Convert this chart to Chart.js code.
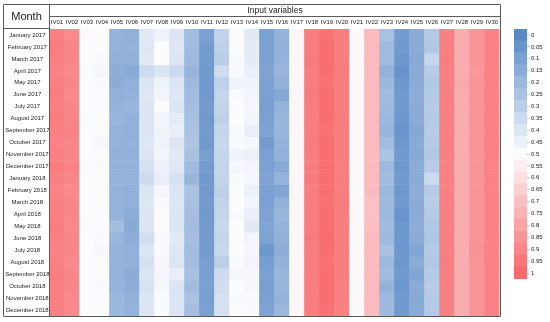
<!DOCTYPE html>
<html>
<head>
<meta charset="utf-8">
<script src="https://cdn.jsdelivr.net/npm/chart.js@4/dist/chart.umd.min.js"></script>
<style>
  html, body { margin: 0; padding: 0; background: #fff; }
  #wrap { position: relative; width: 550px; height: 322px; }
  #heat { position: absolute; left: 0; top: 0; }
  #bar { position: absolute; left: 500px; top: 0; }
</style>
</head>
<body>
<div id="wrap">
<canvas id="heat" width="550" height="322"></canvas>
<canvas id="bar" width="50" height="322"></canvas>
</div>
<script>
const months = ["January 2017","February 2017","March 2017","April 2017","May 2017","June 2017","July 2017","August 2017","September 2017","October 2017","November 2017","December 2017","January 2018","February 2018","March 2018","April 2018","May 2018","June 2018","July 2018","August 2018","September 2018","October 2018","November 2018","December 2018"];
const variables = ["IV01","IV02","IV03","IV04","IV05","IV06","IV07","IV08","IV09","IV10","IV11","IV12","IV13","IV14","IV15","IV16","IV17","IV18","IV19","IV20","IV21","IV22","IV23","IV24","IV25","IV26","IV27","IV28","IV29","IV30"];
const scaleTicks = ["0","0.05","0.1","0.15","0.2","0.25","0.3","0.35","0.4","0.45","0.5","0.55","0.6","0.65","0.7","0.75","0.8","0.85","0.9","0.95","1"];
const scaleValues = [0,0.05,0.1,0.15,0.2,0.25,0.3,0.35,0.4,0.45,0.5,0.55,0.6,0.65,0.7,0.75,0.8,0.85,0.9,0.95,1];

// one array per input variable, 24 monthly values each
const IV01 = [0.92,0.93,0.92,0.91,0.92,0.93,0.92,0.93,0.92,0.91,0.92,0.93,0.92,0.91,0.92,0.92,0.93,0.92,0.91,0.92,0.93,0.92,0.92,0.92];
const IV02 = [0.89,0.90,0.90,0.89,0.90,0.89,0.90,0.90,0.91,0.90,0.90,0.91,0.90,0.89,0.90,0.90,0.89,0.90,0.90,0.89,0.90,0.90,0.89,0.89];
const IV03 = [0.51,0.50,0.50,0.49,0.50,0.50,0.50,0.49,0.50,0.50,0.50,0.50,0.50,0.50,0.50,0.50,0.49,0.50,0.50,0.50,0.50,0.50,0.50,0.50];
const IV04 = [0.50,0.50,0.49,0.48,0.49,0.50,0.50,0.50,0.50,0.48,0.50,0.49,0.50,0.50,0.50,0.50,0.50,0.49,0.48,0.50,0.50,0.49,0.50,0.50];
const IV05 = [0.18,0.18,0.17,0.16,0.15,0.17,0.18,0.19,0.18,0.18,0.17,0.18,0.18,0.18,0.18,0.18,0.23,0.19,0.18,0.18,0.18,0.18,0.20,0.20];
const IV06 = [0.17,0.18,0.17,0.14,0.17,0.18,0.19,0.17,0.17,0.18,0.17,0.18,0.18,0.17,0.17,0.15,0.14,0.16,0.17,0.17,0.15,0.16,0.17,0.18];
const IV07 = [0.42,0.41,0.42,0.36,0.40,0.41,0.40,0.40,0.40,0.41,0.40,0.38,0.36,0.40,0.41,0.40,0.40,0.37,0.40,0.38,0.40,0.39,0.40,0.40];
const IV08 = [0.46,0.50,0.50,0.40,0.46,0.47,0.50,0.47,0.46,0.46,0.47,0.45,0.44,0.48,0.49,0.50,0.50,0.49,0.49,0.48,0.48,0.48,0.49,0.49];
const IV09 = [0.40,0.41,0.40,0.35,0.40,0.41,0.40,0.43,0.44,0.40,0.42,0.41,0.38,0.40,0.41,0.40,0.40,0.42,0.41,0.40,0.44,0.40,0.40,0.40];
const IV10 = [0.22,0.22,0.21,0.19,0.21,0.22,0.23,0.24,0.25,0.26,0.24,0.22,0.19,0.25,0.24,0.23,0.22,0.23,0.22,0.23,0.24,0.22,0.25,0.23];
const IV11 = [0.10,0.08,0.08,0.07,0.07,0.07,0.08,0.07,0.08,0.07,0.09,0.08,0.07,0.07,0.08,0.07,0.08,0.08,0.08,0.09,0.09,0.10,0.09,0.10];
const IV12 = [0.32,0.31,0.30,0.36,0.31,0.33,0.32,0.31,0.33,0.34,0.33,0.33,0.32,0.31,0.32,0.33,0.34,0.33,0.34,0.30,0.36,0.37,0.38,0.38];
const IV13 = [0.50,0.50,0.49,0.49,0.46,0.49,0.50,0.50,0.49,0.49,0.46,0.48,0.49,0.50,0.50,0.49,0.50,0.50,0.50,0.49,0.48,0.50,0.49,0.50];
const IV14 = [0.42,0.43,0.43,0.45,0.46,0.47,0.48,0.47,0.44,0.48,0.45,0.47,0.48,0.45,0.47,0.44,0.42,0.47,0.48,0.47,0.48,0.48,0.49,0.49];
const IV15 = [0.10,0.10,0.10,0.11,0.10,0.10,0.09,0.10,0.11,0.08,0.10,0.10,0.11,0.10,0.10,0.11,0.12,0.11,0.06,0.09,0.10,0.09,0.10,0.11];
const IV16 = [0.18,0.17,0.18,0.19,0.17,0.13,0.18,0.19,0.19,0.18,0.17,0.14,0.18,0.12,0.17,0.19,0.18,0.17,0.16,0.18,0.19,0.19,0.18,0.20];
const IV17 = [0.52,0.52,0.52,0.52,0.52,0.52,0.52,0.52,0.52,0.52,0.52,0.52,0.52,0.52,0.52,0.52,0.52,0.52,0.52,0.52,0.52,0.52,0.52,0.52];
const IV18 = [0.93,0.93,0.94,0.93,0.93,0.94,0.93,0.93,0.93,0.94,0.93,0.93,0.94,0.93,0.93,0.93,0.93,0.94,0.93,0.93,0.93,0.93,0.93,0.93];
const IV19 = [0.97,0.98,0.98,0.98,0.97,0.98,0.98,0.98,0.97,0.98,0.98,0.98,0.98,0.98,0.97,0.98,0.98,0.98,0.98,0.97,0.98,0.98,0.98,0.97];
const IV20 = [0.93,0.93,0.93,0.94,0.93,0.93,0.93,0.94,0.93,0.93,0.93,0.93,0.93,0.93,0.94,0.93,0.93,0.93,0.93,0.93,0.93,0.92,0.92,0.92];
const IV21 = [0.51,0.51,0.51,0.51,0.51,0.51,0.51,0.51,0.51,0.51,0.51,0.51,0.51,0.51,0.51,0.51,0.51,0.51,0.51,0.51,0.51,0.51,0.51,0.51];
const IV22 = [0.72,0.72,0.72,0.72,0.72,0.72,0.72,0.72,0.72,0.72,0.72,0.72,0.72,0.72,0.70,0.70,0.71,0.72,0.72,0.72,0.72,0.72,0.72,0.72];
const IV23 = [0.24,0.21,0.22,0.18,0.20,0.22,0.21,0.20,0.19,0.22,0.25,0.21,0.22,0.20,0.21,0.20,0.22,0.21,0.24,0.20,0.22,0.18,0.21,0.21];
const IV24 = [0.08,0.07,0.06,0.04,0.06,0.07,0.07,0.06,0.05,0.06,0.07,0.06,0.07,0.06,0.07,0.05,0.06,0.06,0.06,0.06,0.07,0.06,0.07,0.07];
const IV25 = [0.15,0.15,0.14,0.15,0.15,0.16,0.15,0.15,0.13,0.15,0.14,0.15,0.15,0.16,0.15,0.15,0.16,0.15,0.12,0.15,0.12,0.15,0.14,0.15];
const IV26 = [0.28,0.27,0.33,0.29,0.27,0.28,0.29,0.28,0.29,0.28,0.27,0.29,0.35,0.28,0.30,0.28,0.27,0.26,0.28,0.27,0.28,0.29,0.28,0.28];
const IV27 = [0.92,0.92,0.93,0.92,0.92,0.92,0.92,0.92,0.92,0.92,0.92,0.92,0.92,0.92,0.92,0.92,0.92,0.92,0.92,0.93,0.92,0.92,0.92,0.92];
const IV28 = [0.77,0.77,0.77,0.77,0.78,0.77,0.77,0.77,0.77,0.77,0.77,0.77,0.77,0.77,0.77,0.77,0.77,0.77,0.77,0.77,0.77,0.77,0.77,0.77];
const IV29 = [0.85,0.85,0.85,0.84,0.85,0.85,0.85,0.85,0.85,0.85,0.85,0.85,0.85,0.85,0.85,0.85,0.85,0.85,0.86,0.85,0.85,0.85,0.85,0.85];
const IV30 = [0.91,0.91,0.91,0.91,0.91,0.91,0.91,0.91,0.91,0.91,0.91,0.91,0.91,0.91,0.91,0.91,0.91,0.91,0.91,0.91,0.91,0.91,0.91,0.91];

const columns = [IV01,IV02,IV03,IV04,IV05,IV06,IV07,IV08,IV09,IV10,IV11,IV12,IV13,IV14,IV15,IV16,IV17,IV18,IV19,IV20,IV21,IV22,IV23,IV24,IV25,IV26,IV27,IV28,IV29,IV30];

const LOW = [90,138,198], MID = [252,252,255], HIGH = [248,105,107];
function colorFor(v) {
  let a, b, t;
  if (v <= 0.5) { a = LOW; b = MID; t = v / 0.5; } else { a = MID; b = HIGH; t = (v - 0.5) / 0.5; }
  const c = a.map((x, i) => Math.round(x + (b[i] - x) * t));
  return `rgb(${c[0]},${c[1]},${c[2]})`;
}

const FONT = "'Liberation Sans', Arial, sans-serif";

const tablePlugin = {
  id: 'tableFrame',
  afterDraw(chart) {
    const ctx = chart.ctx;
    const a = chart.chartArea;
    const left = 3.5, top = 4.5;
    const right = Math.round(a.right) + 0.5, bottom = Math.round(a.bottom) + 0.5;
    const colX = Math.round(a.left) - 0.5;
    ctx.save();
    ctx.strokeStyle = '#5a5a5a';
    ctx.lineWidth = 1;
    ctx.beginPath();
    ctx.rect(left, top, right - left, bottom - top);
    ctx.moveTo(colX, top); ctx.lineTo(colX, bottom);
    ctx.moveTo(colX, 16.5); ctx.lineTo(right, 16.5);
    ctx.moveTo(left, Math.round(a.top) - 0.5); ctx.lineTo(colX, Math.round(a.top) - 0.5);
    ctx.stroke();
    ctx.fillStyle = '#222';
    ctx.textAlign = 'center';
    ctx.textBaseline = 'middle';
    ctx.font = `11px ${FONT}`;
    ctx.fillText('Month', (left + colX) / 2, 17);
    ctx.font = `8.5px ${FONT}`;
    ctx.fillText('Input variables', (colX + right) / 2, 10.5);
    ctx.restore();
  }
};

const heatDatasets = months.map((m, r) => ({
  label: m,
  data: variables.map(() => 1),
  backgroundColor: columns.map(col => colorFor(col[r])),
  borderWidth: 0,
  barPercentage: 1,
  categoryPercentage: 1,
  yAxisID: 'y',
  xAxisID: 'x'
}));

new Chart(document.getElementById('heat'), {
  type: 'bar',
  data: { labels: variables, datasets: heatDatasets },
  options: {
    responsive: false,
    animation: false,
    devicePixelRatio: 1,
    layout: { padding: { left: 3, top: 16, right: 50.5, bottom: 6 } },
    plugins: { legend: { display: false }, tooltip: { enabled: false } },
    scales: {
      x: {
        position: 'top', stacked: true,
        grid: { display: false, drawTicks: false },
        border: { display: false },
        ticks: { font: { size: 6, family: FONT }, color: '#222', maxRotation: 0, autoSkip: false, padding: 3 },
        afterFit: s => { s.height = 13; }
      },
      y: { stacked: true, min: 0, max: 24, reverse: true, display: false },
      m: {
        type: 'category', labels: months, position: 'left', offset: true,
        grid: { display: false, drawTicks: false },
        border: { display: false },
        ticks: { font: { size: 6, family: FONT }, color: '#222', autoSkip: false, crossAlign: 'center', padding: 0 },
        afterFit: s => { s.width = 46.5; }
      }
    }
  },
  plugins: [tablePlugin]
});

new Chart(document.getElementById('bar'), {
  type: 'bar',
  data: {
    labels: scaleTicks,
    datasets: [{
      data: scaleValues.map(() => 1),
      backgroundColor: scaleValues.map(colorFor),
      borderWidth: 0, barPercentage: 1, categoryPercentage: 1
    }]
  },
  options: {
    indexAxis: 'y',
    responsive: false,
    animation: false,
    devicePixelRatio: 1,
    layout: { padding: { left: 14, top: 29, right: 0, bottom: 43 } },
    plugins: { legend: { display: false }, tooltip: { enabled: false } },
    scales: {
      x: { min: 0, max: 1, display: false },
      y: {
        position: 'right',
        grid: { display: true, drawOnChartArea: false, drawTicks: true, tickLength: 2, color: '#bbb', offset: false },
        border: { display: false },
        ticks: { font: { size: 6, family: FONT }, color: '#222', autoSkip: false, padding: 2 },
        afterFit: s => { s.width = 23; }
      }
    }
  }
});
</script>
</body>
</html>
